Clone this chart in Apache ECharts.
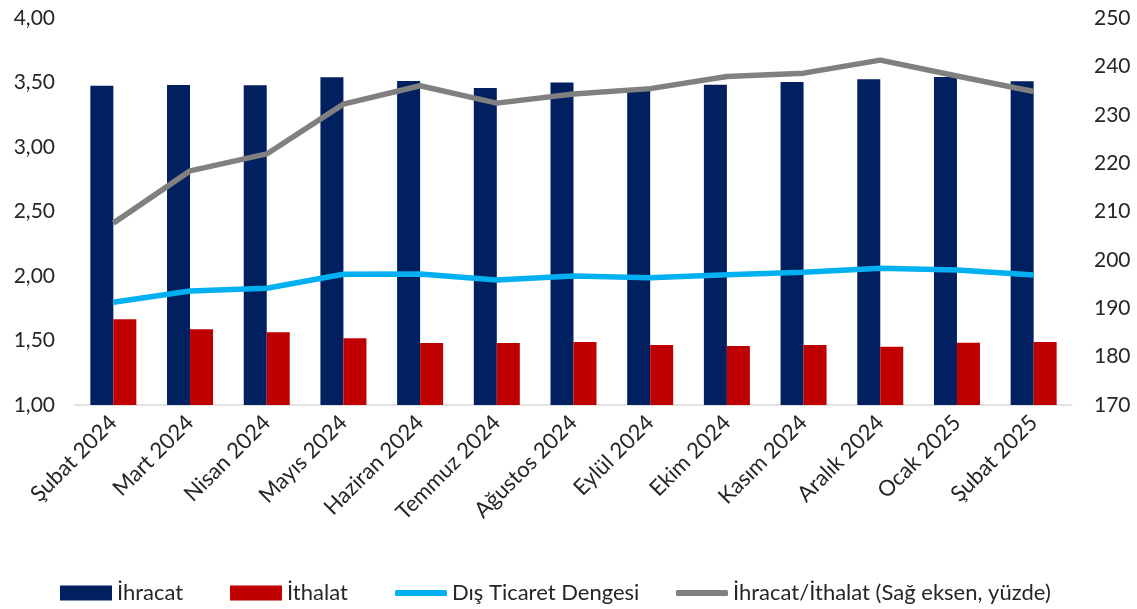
<!DOCTYPE html>
<html>
<head>
<meta charset="utf-8">
<script src="https://cdn.jsdelivr.net/npm/echarts@6/dist/echarts.min.js"></script>
<style>html,body{margin:0;padding:0;background:#fff}#c{width:1137px;height:609px}</style>
</head>
<body>
<div id="c"></div>
<script>
const categories = ['Şubat 2024','Mart 2024','Nisan 2024','Mayıs 2024','Haziran 2024','Temmuz 2024','Ağustos 2024','Eylül 2024','Ekim 2024','Kasım 2024','Aralık 2024','Ocak 2025','Şubat 2025'];
const ihracat = [3.475, 3.48, 3.478, 3.54, 3.512, 3.457, 3.50, 3.45, 3.483, 3.504, 3.525, 3.543, 3.509];
const ithalat = [1.664, 1.587, 1.563, 1.517, 1.481, 1.481, 1.488, 1.465, 1.457, 1.465, 1.452, 1.483, 1.488];
const denge = [1.796, 1.884, 1.905, 2.013, 2.016, 1.969, 2.0, 1.987, 2.01, 2.029, 2.06, 2.047, 2.008];
const oran = [207.6, 218.4, 221.9, 232.2, 236.0, 232.4, 234.3, 235.4, 237.9, 238.6, 241.3, 238.0, 234.8];
const seriesNames = ['İhracat','İthalat','Dış Ticaret Dengesi','İhracat/İthalat (Sağ eksen, yüzde)'];

const font = 'Lato, "Open Sans", sans-serif';
const legendText = {fontSize: 22, color: '#262626', fontFamily: font};
function mkLegend(name, left, isLine) {
  return {
    top: 582, left: left, orient: 'horizontal', padding: 0,
    itemWidth: 52, itemHeight: isLine ? 6 : 15, itemGap: 10,
    textStyle: legendText,
    selectedMode: false,
    data: [{name: name, icon: isLine ? 'roundRect' : 'rect'}]
  };
}
const chart = echarts.init(document.getElementById('c'));
chart.setOption({
  animation: false,
  textStyle: {fontFamily: font},
  grid: {left: 75, right: 65, top: 18, bottom: 204, containLabel: false},
  legend: [
    mkLegend(seriesNames[0], 60, false),
    mkLegend(seriesNames[1], 230, false),
    mkLegend(seriesNames[2], 395, true),
    mkLegend(seriesNames[3], 676, true)
  ],
  xAxis: {
    type: 'category', data: categories,
    axisLine: {lineStyle: {color: '#d9d9d9', width: 1.5}},
    axisTick: {show: false},
    axisLabel: {rotate: 45, fontSize: 22, color: '#262626', margin: 14, interval: 0, fontFamily: font}
  },
  yAxis: [
    {type: 'value', min: 1, max: 4, interval: 0.5,
     splitLine: {show: false}, axisLine: {show: false}, axisTick: {show: false},
     axisLabel: {fontSize: 21, color: '#262626', margin: 20, fontFamily: font,
       formatter: v => v.toFixed(2).replace('.', ',')}},
    {type: 'value', min: 170, max: 250, interval: 10,
     splitLine: {show: false}, axisLine: {show: false}, axisTick: {show: false},
     axisLabel: {fontSize: 21, color: '#262626', margin: 22, fontFamily: font}}
  ],
  series: [
    {name: seriesNames[0], type: 'bar', data: ihracat, barWidth: 23, barGap: '0%', itemStyle: {color: '#002060'}, yAxisIndex: 0},
    {name: seriesNames[1], type: 'bar', data: ithalat, barWidth: 23, itemStyle: {color: '#C00000'}, yAxisIndex: 0},
    {name: seriesNames[2], type: 'line', data: denge, yAxisIndex: 0, symbol: 'none', lineStyle: {color: '#00B0F0', width: 5.5}, itemStyle: {color: '#00B0F0'}},
    {name: seriesNames[3], type: 'line', data: oran, yAxisIndex: 1, symbol: 'none', lineStyle: {color: '#808080', width: 5.5}, itemStyle: {color: '#808080'}}
  ]
});
</script>
</body>
</html>
